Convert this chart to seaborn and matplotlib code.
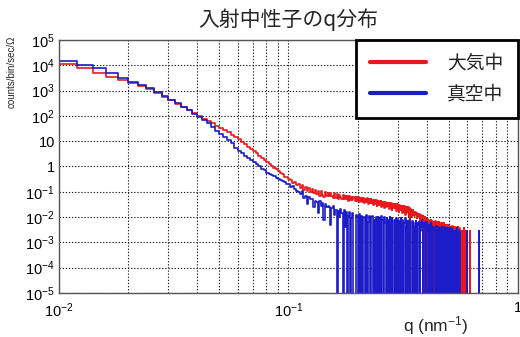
import numpy as np
import pandas as pd
import matplotlib
matplotlib.use("Agg")
import matplotlib.pyplot as plt
import seaborn as sns
from matplotlib.ticker import LogLocator, FixedLocator, FixedFormatter, NullFormatter
from matplotlib.lines import Line2D

# ---------------- data ----------------
title = "入射中性子のq分布"
series_names = ["大気中", "真空中"]
series_colors = ["#e8191c", "#1c1cc8"]
x_label = "q (nm$^{-1}$)"
y_label = "counts/bin/sec/Ω"

bin_start = 0.010   # first bin edge (nm^-1)
bin_width = 0.002   # linear bin width (nm^-1)

# log10(counts/bin/sec/sr) per bin; None = empty bin (0 counts)
air_log10 = [
    4.04, 3.88, 3.70, 3.52, 3.40, 3.30, 3.18, 3.05, 2.92, 2.76,
    2.62, 2.48, 2.36, 2.23, 2.10, 1.99, 1.88, 1.79, 1.70, 1.62,
    1.53, 1.44, 1.35, 1.26, 1.16, 1.07, 0.98, 0.88, 0.79, 0.70,
    0.61, 0.52, 0.43, 0.34, 0.26, 0.17, 0.10, 0.03, -0.05, -0.11,
    -0.16, -0.27, -0.28, -0.40, -0.42, -0.50, -0.52, -0.65, -0.62, -0.75,
    -0.70, -0.85, -0.74, -0.92, -0.80, -0.98, -0.86, -1.02, -0.88, -1.06,
    -0.92, -1.10, -0.95, -1.15, -0.98, -1.12, -1.20, -1.00, -1.16, -1.04,
    -1.18, -1.04, -1.16, -1.26, -1.06, -1.24, -1.10, -1.30, -1.12, -1.22,
    -1.28, -1.12, -1.30, -1.15, -1.28, -1.17, -1.36, -1.18, -1.32, -1.20,
    -1.34, -1.20, -1.38, -1.22, -1.35, -1.21, -1.42, -1.24, -1.38, -1.26,
    -1.40, -1.24, -1.44, -1.28, -1.42, -1.26, -1.50, -1.30, -1.46, -1.29,
    -1.46, -1.31, -1.52, -1.34, -1.49, -1.33, -1.58, -1.37, -1.52, -1.36,
    -1.52, -1.37, -1.60, -1.40, -1.56, -1.39, -1.66, -1.42, -1.59, -1.43,
    -1.58, -1.43, -1.68, -1.45, -1.63, -1.46, -1.72, -1.48, -1.65, -1.49,
    -1.64, -1.49, -1.75, -1.50, -1.70, -1.52, -1.80, -1.54, -1.72, -1.55,
    -1.72, -1.55, -1.84, -1.57, -1.78, -1.58, -1.90, -1.62, -1.82, -1.60,
    -1.78, -1.62, -1.95, -1.64, None, -1.68, -2.00, -1.70, -1.90, -1.70,
    -1.82, -1.78, -1.95, -1.80, -1.88, -1.84, -2.05, -1.90, -1.86, -1.92,
    -1.95, -1.88, None, -2.00, -1.92, -2.10, -2.20, -1.95, -2.05, None,
    -2.10, -2.00, -2.25, -2.05, None, -2.15, -2.08, -2.30, -2.10, None,
    -2.15, -2.25, None, -2.10, -2.20, -2.40, -2.15, None, -2.20, -2.30,
    -2.20, None, -2.25, -2.15, -2.40, None, -2.20, -2.30, None, -2.25,
    -2.30, -2.20, None, -2.40, -2.25, None, None, -2.30, -2.40, -2.25,
    None, -2.35, -2.25, None, -2.55, -2.30, None, -2.40, -2.30, None,
    -2.40, None, -2.30, -2.55, None, -2.35, -2.40, None, -2.55, -2.40,
    None, -2.40, -2.55, None, -2.35, None, -2.55, -2.40, None, -2.45,
    -2.55, None, -2.40, None, -2.55, -2.45, None, None, -2.40, None,
    -2.55, None, None, -2.45, None, -2.55, None, None, -2.55, None,
    None, -2.55, None, None, None, -2.45, None, None, -2.55, None,
    None, None, None, -2.55, None, None, None, None, None, None,
    None, None, None, None, -2.55, None, None, None, None, None,
    None, None, None, None, None, None, None, None, None, None,
    None, None, None, None, None, None, None, None, None, None,
    None, None, None, None, None, None, None, None, None, None,
    None, None, None, None, None, None, None, None, None, None,
]

vac_log10 = [
    4.17, 4.00, 3.88, 3.68, 3.48, 3.35, 3.22, 3.09, 2.96, 2.78,
    2.64, 2.50, 2.37, 2.22, 2.07, 1.95, 1.82, 1.70, 1.57, 1.42,
    1.30, 1.18, 1.05, 0.92, 0.74, 0.60, 0.52, 0.42, 0.34, 0.24,
    0.16, 0.08, 0.02, -0.10, -0.14, -0.24, -0.28, -0.33, -0.36, -0.46,
    -0.50, -0.55, -0.58, -0.62, -0.68, -0.70, -0.80, -0.76, -0.90, -0.98,
    -1.02, -1.10, -0.98, -1.25, -1.15, -1.50, -1.20, -1.30, -1.28, -1.62,
    -1.35, -1.40, -1.85, -1.38, -1.55, -1.45, -2.10, -1.50, -1.62, -1.55,
    -1.60, -2.30, -1.65, -1.58, -1.90, -1.70, None, -1.75, -2.00, -1.68,
    -1.85, None, -1.72, -2.40, -1.80, None, -1.95, -1.78, None, -2.05,
    -1.85, None, None, -1.92, -2.00, None, -1.88, -2.30, None, -1.95,
    None, -1.98, -2.00, None, -1.90, None, -2.20, -1.95, None, None,
    -2.00, -1.95, None, -2.10, None, -2.00, -2.40, None, -1.98, None,
    -2.05, None, -1.95, -2.10, None, None, -2.00, -2.25, None, -2.05,
    None, -2.10, None, -2.00, -2.20, None, -2.05, None, None, -2.10,
    -2.15, None, -2.05, None, -2.40, -2.10, None, -2.20, None, -2.05,
    None, -2.15, -2.10, None, None, -2.25, -2.05, None, -2.40, -2.15,
    None, -2.20, None, -2.10, -2.30, None, None, -2.20, -2.15, None,
    -2.25, None, -2.40, None, -2.15, None, -2.25, None, None, -2.30,
    -2.20, -2.25, None, -2.40, -2.25, -2.10, -2.55, None, -2.30, -2.25,
    -2.40, -2.25, None, -2.40, -2.20, -2.55, -2.30, -2.55, None, -2.40,
    -2.30, -2.40, None, -2.55, -2.25, -2.35, -2.55, None, -2.55, -2.40,
    -2.40, -2.55, -2.55, None, -2.40, -2.35, -2.55, -2.55, None, -2.45,
    -2.40, -2.55, None, -2.55, -2.45, -2.55, None, -2.55, -2.40, -2.55,
    None, -2.55, -2.45, -2.55, -2.40, None, -2.55, -2.45, None, -2.55,
    -2.55, None, -2.45, -2.55, -2.55, None, -2.55, None, -2.55, -2.45,
    -2.55, None, -2.55, -2.45, None, -2.55, -2.55, None, None, -2.55,
    None, -2.55, -2.55, None, None, -2.45, None, -2.55, None, -2.55,
    None, None, None, -2.55, None, None, None, None, None, None,
    None, None, None, None, None, None, None, None, None, None,
    None, None, None, None, -2.55, None, None, None, None, None,
    None, None, None, None, None, None, None, None, None, None,
    None, None, None, None, None, None, None, None, None, None,
    None, None, None, None, None, None, None, None, None, None,
    None, None, None, None, -2.55, None, None, None, None, None,
    None, None, None, None, None, None, None, None, None, None,
]

x_limits = [1e-2, 1.0]
y_limits = [1e-5, 1e5]
x_ticks = [1e-2, 1e-1, 1.0]
x_tick_labels = [r"$\mathregular{10^{-2}}$", r"$\mathregular{10^{-1}}$", "1"]
y_ticks = [1e-5, 1e-4, 1e-3, 1e-2, 1e-1, 1, 10, 1e2, 1e3, 1e4, 1e5]
y_tick_labels = [r"$\mathregular{10^{-5}}$", r"$\mathregular{10^{-4}}$",
                 r"$\mathregular{10^{-3}}$", r"$\mathregular{10^{-2}}$",
                 r"$\mathregular{10^{-1}}$", "1", "10",
                 r"$\mathregular{10^{2}}$", r"$\mathregular{10^{3}}$",
                 r"$\mathregular{10^{4}}$", r"$\mathregular{10^{5}}$"]

# ---------------- build long table ----------------
def step_rows(name, logs):
    counts = [0.0 if v is None else 10.0 ** v for v in logs]
    edges = bin_start + bin_width * np.arange(len(counts) + 1)
    xs = [edges[0]] + list(edges[:-1]) + [edges[-1]]
    ys = [0.0] + counts + [0.0]
    return pd.DataFrame({"q": xs, "v": ys, "series": name})

df = pd.concat([step_rows(series_names[0], air_log10),
                step_rows(series_names[1], vac_log10)], ignore_index=True)

# ---------------- style ----------------
sns.set_style("white")
plt.rcParams["font.family"] = ["Liberation Sans", "Noto Sans CJK JP", "DejaVu Sans"]
plt.rcParams["mathtext.fontset"] = "custom"
plt.rcParams["mathtext.rm"] = "Liberation Sans"
plt.rcParams["mathtext.it"] = "Liberation Sans:italic"
plt.rcParams["mathtext.bf"] = "Liberation Sans:bold"

fig = plt.figure(figsize=(5.2, 3.37), dpi=100)
ax = fig.add_axes([0.1135, 0.1306, 0.996 - 0.1135, 0.8813 - 0.1306])

palette = dict(zip(series_names, series_colors))
sns.lineplot(data=df, x="q", y="v", hue="series", hue_order=series_names,
             palette=palette, estimator=None, sort=False,
             drawstyle="steps-post", linewidth=1.2, legend=False, ax=ax)

ax.set_xscale("log")
ax.set_yscale("log")
ax.set_xlim(*x_limits)
ax.set_ylim(*y_limits)

ax.xaxis.set_major_locator(FixedLocator(x_ticks))
ax.xaxis.set_major_formatter(FixedFormatter(x_tick_labels))
ax.xaxis.set_minor_locator(LogLocator(base=10, subs=np.arange(2, 10), numticks=100))
ax.xaxis.set_minor_formatter(NullFormatter())
ax.yaxis.set_major_locator(FixedLocator(y_ticks))
ax.yaxis.set_major_formatter(FixedFormatter(y_tick_labels))
ax.yaxis.set_minor_locator(LogLocator(base=10, subs=np.arange(2, 10), numticks=100))
ax.yaxis.set_minor_formatter(NullFormatter())

ax.tick_params(axis="both", which="both", direction="in", colors="black",
               labelsize=10.5)
ax.tick_params(axis="y", which="major", length=8, width=1.2, pad=3)
ax.tick_params(axis="y", which="minor", length=5, width=1.0)
ax.tick_params(axis="x", which="major", length=5, width=1.0, pad=6)
ax.tick_params(axis="x", which="minor", length=3, width=0.8)

grid_kw = dict(color="#222222", linestyle=(0, (1.2, 1.6)), linewidth=0.8)
ax.grid(True, which="major", axis="both", **grid_kw)
ax.grid(True, which="minor", axis="x", **grid_kw)
ax.set_axisbelow(True)

for s in ax.spines.values():
    s.set_color("#555555")
    s.set_linewidth(1.0)

ax.set_title(title, fontsize=15, pad=10, family=["Noto Sans CJK JP", "DejaVu Sans"])
ax.set_xlabel(x_label, fontsize=12.5)
ax.xaxis.set_label_coords(0.82, -0.085)
ax.set_ylabel(y_label, fontsize=7)
ax.yaxis.set_label_coords(-0.092, 0.873)

handles = [Line2D([], [], color=c, linewidth=3) for c in series_colors]
leg = ax.legend(handles, series_names, loc="upper right", bbox_to_anchor=(1.0, 1.0),
                borderaxespad=0.0, frameon=True, fancybox=False, framealpha=1.0,
                edgecolor="black", fontsize=13.5, handlelength=3.0,
                handletextpad=1.1, labelspacing=0.7, borderpad=0.78)
leg.get_frame().set_linewidth(2.0)
for t in leg.get_texts():
    t.set_color("#222222")

fig.savefig("out.png", dpi=100)
